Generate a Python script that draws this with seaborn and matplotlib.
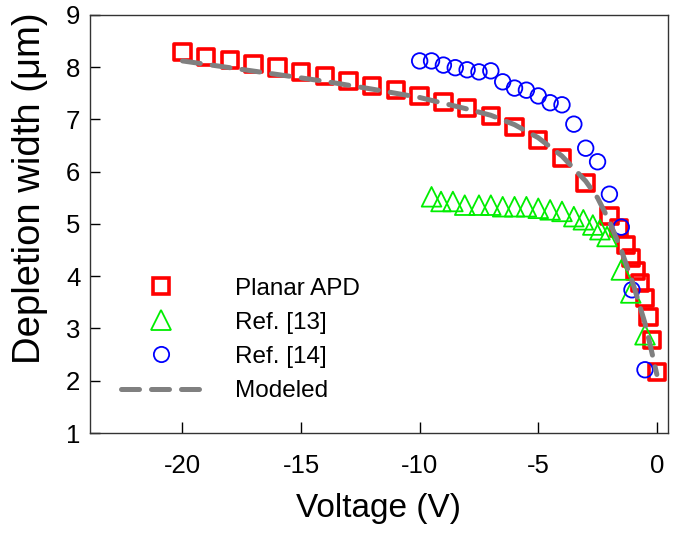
import matplotlib
matplotlib.use("Agg")
import matplotlib.pyplot as plt
from matplotlib.lines import Line2D
import seaborn as sns
import pandas as pd

# ---- data ----
v_apd = [-20, -19, -18, -17, -16, -15, -14, -13, -12, -11, -10, -9, -8, -7, -6,
         -5, -4, -3, -2, -1.6, -1.3, -1.1, -0.9, -0.7, -0.5, -0.35, -0.2, 0]
w_apd = [8.29, 8.2, 8.14, 8.06, 7.99, 7.91, 7.83, 7.74, 7.64, 7.56, 7.45, 7.33,
         7.22, 7.07, 6.86, 6.61, 6.26, 5.78, 5.15, 4.92, 4.6, 4.35, 4.1, 3.87,
         3.58, 3.22, 2.78, 2.17]

v_ref13 = [-9.5, -9.1, -8.6, -8.1, -7.5, -7.0, -6.5, -6.0, -5.5, -5.0, -4.5,
           -4.0, -3.5, -3.1, -2.7, -2.4, -2.1, -1.5, -1.1, -0.5]
w_ref13 = [5.52, 5.43, 5.43, 5.36, 5.36, 5.36, 5.33, 5.33, 5.33, 5.30, 5.27,
           5.24, 5.14, 5.08, 4.98, 4.89, 4.76, 4.12, 3.68, 2.88]

v_ref14 = [-10.0, -9.5, -9.0, -8.5, -8.0, -7.5, -7.0, -6.5, -6.0, -5.5, -5.0,
           -4.5, -4.0, -3.5, -3.0, -2.5, -2.0, -1.5, -1.05, -0.5]
w_ref14 = [8.12, 8.12, 8.04, 7.99, 7.95, 7.91, 7.93, 7.72, 7.6, 7.56, 7.45,
           7.32, 7.28, 6.91, 6.45, 6.19, 5.57, 4.94, 3.74, 2.21]

v_model = [-20, -18, -16, -14, -12, -10, -8, -7, -6, -5, -4, -3, -2.5, -2,
           -1.5, -1, -0.5, -0.3, 0]
w_model = [8.12, 7.99, 7.86, 7.73, 7.58, 7.42, 7.2, 7.08, 6.9, 6.65, 6.3, 5.82,
           5.5, 5.05, 4.5, 3.85, 3.1, 2.72, 2.12]

labels = ["Planar APD", "Ref. [13]", "Ref. [14]", "Modeled"]
x_ticks = [-20, -15, -10, -5, 0]
y_ticks = [1, 2, 3, 4, 5, 6, 7, 8, 9]

sns.set_style("ticks")
plt.rcParams["font.family"] = ["Liberation Sans", "DejaVu Sans"]
plt.rcParams["text.color"] = "black"
plt.rcParams["axes.labelcolor"] = "black"
plt.rcParams["xtick.color"] = "black"
plt.rcParams["ytick.color"] = "black"

fig = plt.figure(figsize=(6.87, 5.33), dpi=100)
ax = fig.add_axes([0.131, 0.1876, 0.841, 0.7844])

df_apd = pd.DataFrame({"V": v_apd, "W": w_apd})
df13 = pd.DataFrame({"V": v_ref13, "W": w_ref13})
df14 = pd.DataFrame({"V": v_ref14, "W": w_ref14})
dfm = pd.DataFrame({"V": v_model, "W": w_model})

specs = [
    (df_apd, "s", "#ff0000", 140, 2.6),
    (df13, "^", "#00ee00", 200, 1.3),
    (df14, "o", "#0000ff", 125, 1.3),
]
for df, mk, col, size, lw in specs:
    n0 = len(ax.collections)
    sns.scatterplot(data=df, x="V", y="W", marker=mk, s=size, ax=ax,
                    legend=False, zorder=3)
    coll = ax.collections[n0]
    coll.set_facecolor("none")
    coll.set_edgecolor(col)
    coll.set_linewidth(lw)

sns.lineplot(data=dfm, x="V", y="W", ax=ax, color="#808080", lw=3.6,
             legend=False, zorder=4, sort=False)
line = ax.lines[-1]
line.set_dashes((3.6, 2.4))
line.set_dash_capstyle("round")

ax.set_xlim(-23.9, 0.46)
ax.set_ylim(1, 9)
ax.set_xticks(x_ticks)
ax.set_xticklabels([str(t) for t in x_ticks])
ax.set_yticks(y_ticks)
ax.tick_params(axis="x", direction="in", length=8, width=1, labelsize=18.5,
               pad=15, top=False)
ax.tick_params(axis="y", direction="in", length=7, width=1, labelsize=18.5,
               pad=7, right=False)
for sp in ax.spines.values():
    sp.set_visible(True)
    sp.set_linewidth(1.0)
    sp.set_color("#333333")

ax.set_xlabel("Voltage (V)", fontsize=24, labelpad=11)
ax.set_ylabel("Depletion width (\u03bcm)", fontsize=27.5)
ax.yaxis.set_label_coords(-0.072, 0.586)

handles = [
    Line2D([], [], ls="none", marker="s", ms=11, mfc="none", mec="#ff0000", mew=2.6),
    Line2D([], [], ls="none", marker="^", ms=14, mfc="none", mec="#00ee00", mew=1.3),
    Line2D([], [], ls="none", marker="o", ms=11, mfc="none", mec="#0000ff", mew=1.3),
    Line2D([], [], color="#808080", lw=3.6, dashes=(3.6, 2.4),
           dash_capstyle="round"),
]
ax.legend(handles, labels, loc="upper left", bbox_to_anchor=(0.158, 0.502),
          bbox_transform=fig.transFigure, frameon=False, fontsize=17.5,
          handlelength=3.3, handletextpad=1.4, labelspacing=0.5, borderpad=0)

fig.savefig("out.png", dpi=100)
